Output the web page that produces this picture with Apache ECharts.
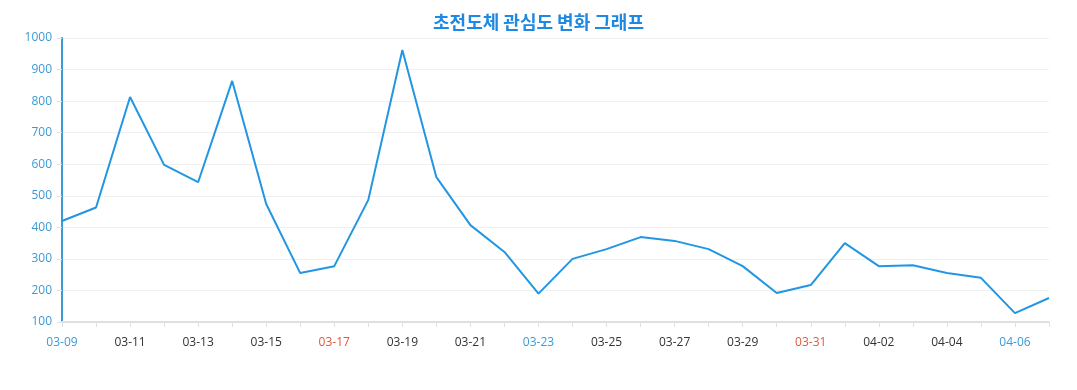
<!DOCTYPE html>
<html><head><meta charset="utf-8">
<script src="https://cdn.jsdelivr.net/npm/echarts@6/dist/echarts.min.js"></script>
<style>html,body{margin:0;padding:0;background:#fff}#c{width:1077px;height:390px}</style>
</head><body><div id="c"></div>
<script>
const categories = ['03-09','03-10','03-11','03-12','03-13','03-14','03-15','03-16','03-17','03-18','03-19','03-20','03-21','03-22','03-23','03-24','03-25','03-26','03-27','03-28','03-29','03-30','03-31','04-01','04-02','04-03','04-04','04-05','04-06','04-07'];
const values = [420,463,813,598,543,864,474,255,277,487,962,559,407,322,190,300,331,369,357,331,277,192,217,350,277,280,255,240,128,176];
const saturdays = ['03-09','03-16','03-23','03-30','04-06'];
const sundays = ['03-10','03-17','03-24','03-31','04-07'];
const title = '초전도체 관심도 변화 그래프';

const chart = echarts.init(document.getElementById('c'));
chart.setOption({
  animation: false,
  title: { text: title, left: 'center', top: 8,
    textStyle: { color: '#1e88e5', fontSize: 18, fontWeight: 'bold', fontFamily: 'Noto Sans CJK KR' } },
  grid: { left: 62, right: 28, top: 38, bottom: 68 },
  xAxis: {
    type: 'category', data: categories, boundaryGap: false,
    axisLine: { lineStyle: { color: '#e0e0e0', width: 2 } },
    axisTick: { show: true, interval: 0, lineStyle: { color: '#e0e0e0' } },
    axisLabel: { interval: 1, margin: 15, fontSize: 12, fontFamily: 'Open Sans',
      color: function (v) { return saturdays.includes(v) ? '#3a9ad6' : (sundays.includes(v) ? '#e0573a' : '#333'); } }
  },
  yAxis: {
    type: 'value', min: 100, max: 1000, interval: 100,
    axisLine: { show: true, lineStyle: { color: '#3a9ad6', width: 2 } },
    axisTick: { show: true, lineStyle: { color: '#e0e0e0' } },
    axisLabel: { color: '#3a9ad6', fontSize: 12, fontFamily: 'Open Sans', margin: 10,
      formatter: function (v) { return String(v); } },
    splitLine: { lineStyle: { color: '#f0f0f0' } }
  },
  series: [{
    type: 'line', data: values, symbol: 'none',
    lineStyle: { color: '#2196e3', width: 2 }
  }]
});
</script></body></html>
